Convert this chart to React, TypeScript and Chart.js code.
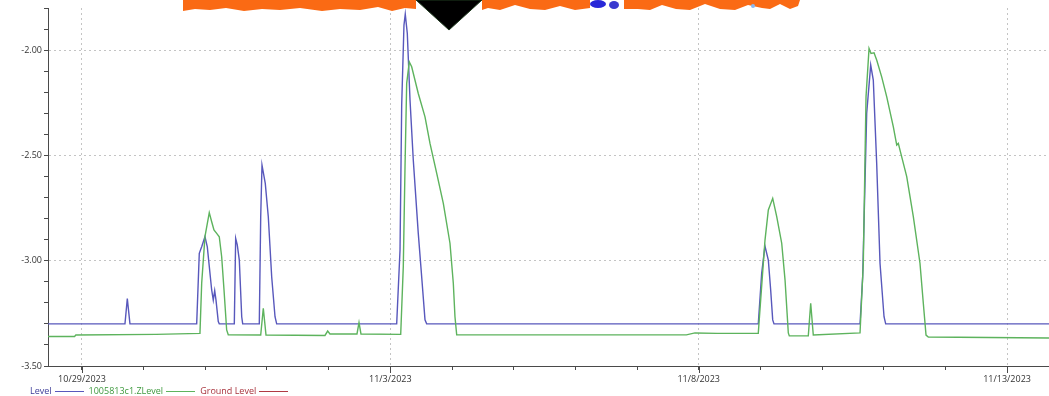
import React, { useEffect, useRef } from 'react';
import { Chart, registerables } from 'chart.js';

Chart.register(...registerables);

// x values are days counted from 10/29/2023 00:00
const tickDays = [0, 5, 10, 15];
const tickLabels = ['10/29/2023', '11/3/2023', '11/8/2023', '11/13/2023'];
const yLabelValues = [-3.5, -3.0, -2.5, -2.0];

const X_MIN = -0.551;
const X_MAX = 15.68;
const Y_MIN = -3.5;
const Y_MAX = -1.8;

const levelDays = [
  -0.551, 0.697, 0.735, 0.778, 1.86, 1.902, 1.941, 1.994, 2.032, 2.103, 2.129, 2.152, 2.173, 2.21, 2.226,
  2.47, 2.492, 2.518, 2.551, 2.59, 2.606, 2.875, 2.898, 2.919, 2.972, 3.021, 3.076, 3.13, 3.157,
  5.103, 5.157, 5.184, 5.221, 5.242, 5.275, 5.319, 5.372, 5.453, 5.508, 5.562, 5.589,
  10.966, 11.021, 11.074, 11.129, 11.167, 11.2, 11.221,
  12.616, 12.659, 12.724, 12.789, 12.831, 12.886, 12.94, 13.005, 13.032, 15.68,
];
const levelValues = [
  -3.3, -3.3, -3.18, -3.3, -3.3, -2.965, -2.934, -2.886, -2.934, -3.139, -3.187, -3.142, -3.187, -3.289, -3.3,
  -3.3, -2.894, -2.925, -2.997, -3.266, -3.3, -3.3, -2.791, -2.546, -2.633, -2.791, -3.076, -3.266, -3.3,
  -3.3, -2.949, -2.261, -1.881, -1.829, -1.921, -2.237, -2.522, -2.87, -3.076, -3.281, -3.3,
  -3.3, -3.06, -2.93, -2.997, -3.139, -3.281, -3.3,
  -3.3, -3.076, -2.3, -2.071, -2.142, -2.538, -3.012, -3.266, -3.3, -3.3,
];

const zLevelDays = [
  -0.551, -0.12, -0.1, 1.2, 1.913, 1.941, 1.994, 2.064, 2.103, 2.14, 2.184, 2.226, 2.265, 2.303, 2.346, 2.372,
  2.898, 2.94, 2.984, 3.94, 3.984, 4.021, 4.459, 4.492, 4.524,
  5.168, 5.21, 5.238, 5.265, 5.307, 5.346, 5.453, 5.562, 5.643, 5.752, 5.859, 5.967, 6.021, 6.048, 6.076,
  9.8, 9.94, 10.3, 10.966, 11.075, 11.129, 11.2, 11.265, 11.346, 11.4, 11.453, 11.469,
  11.777, 11.816, 11.858, 12.616, 12.669, 12.713, 12.762, 12.794, 12.843, 12.886, 12.967, 13.049, 13.156,
  13.211, 13.237, 13.264, 13.373, 13.48, 13.588, 13.642, 13.686, 13.723, 15.68,
];
const zLevelValues = [
  -3.36, -3.36, -3.353, -3.35, -3.345, -3.107, -2.886, -2.772, -2.815, -2.854, -2.87, -2.886, -2.981, -3.139, -3.329, -3.352,
  -3.353, -3.226, -3.353, -3.355, -3.334, -3.348, -3.348, -3.294, -3.348,
  -3.35, -3.028, -2.554, -2.158, -2.056, -2.079, -2.206, -2.317, -2.443, -2.585, -2.728, -2.917, -3.107, -3.266, -3.352,
  -3.352, -3.343, -3.345, -3.345, -2.902, -2.759, -2.704, -2.791, -2.917, -3.092, -3.343, -3.357,
  -3.357, -3.202, -3.353, -3.343, -3.012, -2.222, -1.992, -2.016, -2.013, -2.047, -2.127, -2.222, -2.364,
  -2.451, -2.443, -2.475, -2.601, -2.791, -3.012, -3.202, -3.353, -3.362, -3.367,
];

const groundLevelDays: number[] = [];
const groundLevelValues: number[] = [];

const BLUE = '#5858bc';
const GREEN = '#5db35d';
const RED = '#b03a44';
const GRID = '#c4c4c4';
const AXIS = '#4a4a4a';
const FONT = { family: "'Open Sans', 'DejaVu Sans', sans-serif", size: 9 };

const isMajorX = (v: any) => typeof v === 'number' && tickDays.some((d) => Math.abs(d - v) < 1e-6);
const isMajorY = (v: any) => typeof v === 'number' && yLabelValues.some((d) => Math.abs(d - v) < 1e-6);

const toPoints = (xs: number[], ys: number[]) => xs.map((x, i) => ({ x, y: ys[i] }));

const majorTickPlugin = {
  id: 'majorTickExtend',
  afterDraw(chart: any) {
    const xs = chart.scales.x;
    const ctx = chart.ctx;
    const y0 = chart.chartArea.bottom;
    ctx.save();
    ctx.strokeStyle = AXIS;
    ctx.lineWidth = 1;
    tickDays.forEach((d) => {
      const px = Math.round(xs.getPixelForValue(d)) + 0.5;
      ctx.beginPath();
      ctx.moveTo(px, y0);
      ctx.lineTo(px, y0 + 7);
      ctx.stroke();
    });
    ctx.restore();
  },
};

export default function App() {
  const ref = useRef<HTMLCanvasElement | null>(null);

  useEffect(() => {
    if (!ref.current) return;
    const chart = new Chart(ref.current, {
      type: 'line',
      plugins: [majorTickPlugin],
      data: {
        datasets: [
          {
            label: '1005813c1.ZLevel',
            data: toPoints(zLevelDays, zLevelValues),
            borderColor: GREEN,
            borderWidth: 1.4,
            pointRadius: 0,
            tension: 0,
            fill: false,
          },
          {
            label: 'Level',
            data: toPoints(levelDays, levelValues),
            borderColor: BLUE,
            borderWidth: 1.4,
            pointRadius: 0,
            tension: 0,
            fill: false,
          },
          {
            label: 'Ground Level',
            data: toPoints(groundLevelDays, groundLevelValues),
            borderColor: RED,
            borderWidth: 1.4,
            pointRadius: 0,
            fill: false,
          },
        ],
      },
      options: {
        animation: false,
        responsive: false,
        maintainAspectRatio: false,
        layout: { padding: { top: 8, left: 0, right: 0, bottom: 0 } },
        plugins: {
          legend: { display: false },
          tooltip: { enabled: false },
        },
        scales: {
          x: {
            type: 'linear',
            min: X_MIN,
            max: X_MAX,
            afterFit: (s: any) => {
              s.height = 30;
            },
            ticks: {
              stepSize: 1,
              autoSkip: false,
              includeBounds: false,
              maxRotation: 0,
              padding: 4,
              color: '#333',
              font: FONT,
              callback: (v: any) => {
                const i = tickDays.findIndex((d) => Math.abs(d - v) < 1e-6);
                return i >= 0 ? tickLabels[i] : '';
              },
            },
            grid: {
              color: (ctx: any) => (isMajorX(ctx.tick?.value) ? GRID : 'rgba(0,0,0,0)'),
              tickColor: AXIS,
              tickLength: 4,
              lineWidth: 1,
            },
            border: { display: true, color: AXIS, width: 1, dash: [2, 3] },
          },
          y: {
            type: 'linear',
            min: Y_MIN,
            max: Y_MAX,
            afterFit: (s: any) => {
              s.width = 48;
            },
            ticks: {
              stepSize: 0.1,
              autoSkip: false,
              includeBounds: false,
              padding: 2,
              color: '#333',
              font: FONT,
              callback: (v: any) => (isMajorY(v) ? Number(v).toFixed(2) : ''),
            },
            grid: {
              color: (ctx: any) =>
                isMajorY(ctx.tick?.value) && ctx.tick.value > -3.45 ? GRID : 'rgba(0,0,0,0)',
              tickColor: AXIS,
              tickLength: 4,
              lineWidth: 1,
            },
            border: { display: true, color: AXIS, width: 1, dash: [2, 3] },
          },
        },
      },
    });
    return () => chart.destroy();
  }, []);

  const legendText = { fontFamily: "'Open Sans', 'DejaVu Sans', sans-serif", fontSize: 9, lineHeight: '10px' };
  const lineSample = (c: string) => (
    <span style={{ display: 'inline-block', width: 29, height: 0, borderTop: `1px solid ${c}`, margin: '0 5px 0 3px', verticalAlign: 'middle' }} />
  );

  return (
    <div style={{ position: 'absolute', left: 0, top: 0, width: 1049, height: 396, background: '#fff', overflow: 'hidden' }}>
      <canvas ref={ref} width={1049} height={396} style={{ position: 'absolute', left: 0, top: 0, width: 1049, height: 396 }} />
      <svg width={1049} height={40} style={{ position: 'absolute', left: 0, top: 0 }}>
        <polygon
          fill="#fa6a14"
          points="183,0 416,0 416,9 405,8 392,11 378,7 360,10 340,9 322,11 300,8 280,10 262,9 244,11 226,8 210,10 195,9 183,11"
        />
        <polygon
          fill="#fa6a14"
          points="482,0 590,0 590,8 575,10 560,6 545,10 530,9 515,5 500,10 488,8 482,10"
        />
        <polygon
          fill="#fa6a14"
          points="624,0 800,0 798,6 790,9 780,4 770,9 762,8 748,5 735,10 720,9 705,4 690,10 676,9 662,5 650,10 638,9 624,9"
        />
        <ellipse cx={598} cy={4} rx={8} ry={4} fill="#2828d8" />
        <ellipse cx={614} cy={5} rx={5} ry={4} fill="#3a3ad0" />
        <circle cx={753} cy={6} r={2} fill="#8ab8f0" />
        <polygon fill="#000" stroke="#1e3a1e" strokeWidth={1} points="416,0 482,0 449,30" />
      </svg>
      <div style={{ position: 'absolute', left: 30, top: 386, display: 'flex', alignItems: 'center', whiteSpace: 'nowrap', ...legendText }}>
        <span style={{ color: '#3c3c98' }}>Level</span>
        {lineSample(BLUE)}
        <span style={{ color: '#3f9a3f' }}>1005813c1.ZLevel</span>
        {lineSample(GREEN)}
        <span style={{ color: '#a8323c' }}>Ground Level</span>
        {lineSample(RED)}
      </div>
    </div>
  );
}
